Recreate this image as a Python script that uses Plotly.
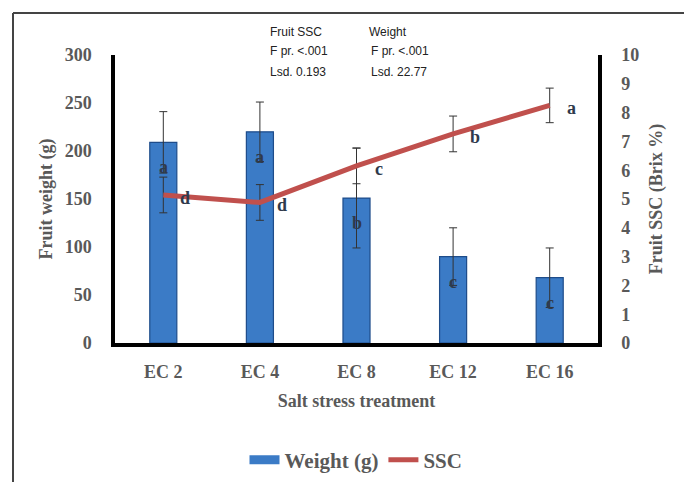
import plotly.graph_objects as go

categories = ["EC 2", "EC 4", "EC 8", "EC 12", "EC 16"]
weight = [209, 220, 151, 90, 68]
weight_err = [32, 31, 52, 30, 31]
ssc = [5.14, 4.88, 6.15, 7.26, 8.25]
ssc_err = [0.62, 0.62, 0.62, 0.62, 0.6]
weight_letters = ["a", "a", "b", "c", "c"]
ssc_letters = ["d", "d", "c", "b", "a"]
y1_ticks = [0, 50, 100, 150, 200, 250, 300]
y2_ticks = list(range(0, 11))

serif = "Liberation Serif"
gray = "#595959"
bar_blue = "#3b7bc6"


def sfont(size, color=gray):
    return dict(family=serif, size=size, color=color, weight="bold")


fig = go.Figure()
fig.add_trace(go.Bar(
    x=categories, y=weight, name="Weight (g)", showlegend=False,
    marker=dict(color=bar_blue, line=dict(color="#1e4c8a", width=1.2)),
    error_y=dict(type="data", array=weight_err, visible=True,
                 color="#333333", thickness=1, width=4),
    width=0.28,
))
fig.add_trace(go.Scatter(
    x=categories, y=ssc, name="SSC", yaxis="y2", mode="lines", showlegend=False,
    line=dict(color="#c0504d", width=5),
    error_y=dict(type="data", array=ssc_err, visible=True,
                 color="#333333", thickness=1, width=4),
))
# legend entries
fig.add_trace(go.Scatter(x=[None], y=[None], name="Weight (g)", mode="lines",
                         line=dict(color=bar_blue, width=9)))
fig.add_trace(go.Scatter(x=[None], y=[None], name="SSC", mode="lines",
                         line=dict(color="#c0504d", width=5)))

ann = []
for c, v, t in zip(categories, weight, weight_letters):
    ann.append(dict(x=c, y=v, xref="x", yref="y", text=t, showarrow=False,
                    yshift=-25, font=sfont(18, "#2f3a4c")))
for c, v, t in zip(categories, ssc, ssc_letters):
    ann.append(dict(x=c, y=v, xref="x", yref="y2", text=t, showarrow=False,
                    xshift=22, yshift=-3, font=sfont(18, "#2f3a4c")))

sans = dict(family="Liberation Sans", size=12, color="#222222")
top_texts = [("Fruit SSC", 268, 32), ("F pr. <.001", 268, 51), ("Lsd. 0.193", 268, 72),
             ("Weight", 367, 32), ("F pr. <.001", 369, 51), ("Lsd. 22.77", 369, 72)]
L, T, PW, PH = 115, 55, 483, 288
for txt, px, py in top_texts:
    ann.append(dict(x=(px - L) / PW, y=(T + PH - py) / PH, xref="paper", yref="paper",
                    text=txt, showarrow=False, xanchor="left", yanchor="middle", font=sans))

fig.update_layout(
    width=684, height=482,
    margin=dict(l=L, r=684 - L - PW, t=T, b=482 - T - PH, autoexpand=False),
    paper_bgcolor="white", plot_bgcolor="white",
    bargap=0.72,
    showlegend=True,
    legend=dict(orientation="h", x=356 / 684, xref="container", xanchor="center",
                y=(482 - 460) / 482, yref="container", yanchor="middle",
                font=sfont(21), traceorder="normal"),
    xaxis=dict(showline=True, linecolor="black", linewidth=3.5, ticks="",
               automargin=False, ticklabelstandoff=10,
               tickfont=sfont(18),
               title=dict(text="Salt stress treatment", standoff=14, font=sfont(18))),
    yaxis=dict(range=[0, 300], tickvals=y1_ticks, showgrid=False, zeroline=False,
               showline=True, linecolor="black", linewidth=3.5, ticks="",
               automargin=False, ticklabelstandoff=16,
               tickfont=sfont(18),
               title=dict(text="Fruit weight (g)", standoff=8, font=sfont(18))),
    yaxis2=dict(range=[0, 10], tickvals=y2_ticks, overlaying="y", side="right",
                showgrid=False, zeroline=False, showline=True, linecolor="black",
                linewidth=3.5, ticks="", ticklabelstandoff=16, automargin=False,
                tickfont=sfont(18),
                title=dict(text="Fruit SSC (Brix %)", standoff=12, font=sfont(18))),
    annotations=ann,
    shapes=[
        dict(type="line", xref="paper", yref="paper", x0=(13 - L) / PW, x1=(684 - L) / PW,
             y0=(T + PH - 13) / PH, y1=(T + PH - 13) / PH, line=dict(color="#444444", width=2)),
        dict(type="line", xref="paper", yref="paper", x0=(13 - L) / PW, x1=(13 - L) / PW,
             y0=(T + PH - 13) / PH, y1=(T + PH - 482) / PH, line=dict(color="#444444", width=2)),
    ],
)

fig.write_html("out.html", config={"displayModeBar": False},
               post_script="document.body.style.margin='0';")
